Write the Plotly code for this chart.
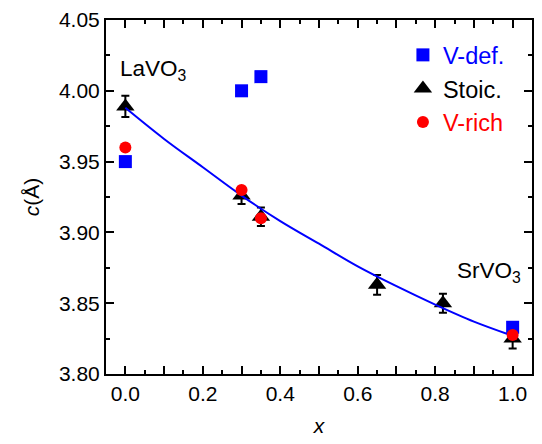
import plotly.graph_objects as go

# --- data ---
x_def = [0.0, 0.30, 0.35, 1.0]
c_def = [3.950, 4.000, 4.010, 3.833]

x_stoic = [0.0, 0.30, 0.35, 0.65, 0.82, 1.0]
c_stoic = [3.989, 3.926, 3.911, 3.863, 3.850, 3.825]
err_stoic = [0.0075, 0.006, 0.0065, 0.007, 0.0067, 0.007]

x_rich = [0.0, 0.30, 0.35, 1.0]
c_rich = [3.960, 3.930, 3.910, 3.8275]

x_fit = [0.0, 0.1, 0.2, 0.3, 0.4, 0.5, 0.6, 0.7, 0.8, 0.9, 1.0]
c_fit = [3.988, 3.966, 3.946, 3.926, 3.908, 3.892, 3.876, 3.862, 3.849, 3.837, 3.827]

x_tickvals = [0.0, 0.2, 0.4, 0.6, 0.8, 1.0]
x_ticktext = ["0.0", "0.2", "0.4", "0.6", "0.8", "1.0"]
x_tick_unlabelled = [0.0, 0.1, 0.2, 0.3, 0.4, 0.5, 0.6, 0.7, 0.8, 0.9, 1.0]
y_tickvals = [3.80, 3.85, 3.90, 3.95, 4.00, 4.05]
y_ticktext = ["3.80", "3.85", "3.90", "3.95", "4.00", "4.05"]

FONT = "Arial, 'Liberation Sans', sans-serif"
BLUE = "#0000FF"
RED = "#FF0000"
XRANGE = [-0.05, 1.05]

fig = go.Figure()

fig.add_trace(go.Scatter(
    x=x_stoic, y=c_stoic, mode="markers", name="Stoic.",
    marker=dict(symbol="triangle-up", size=16, color="black"),
    error_y=dict(type="data", array=err_stoic, color="black", thickness=2, width=4),
    legendrank=2,
))
fig.add_trace(go.Scatter(
    x=x_fit, y=c_fit, mode="lines", line=dict(color=BLUE, width=2, shape="spline"),
    showlegend=False,
))
fig.add_trace(go.Scatter(
    x=x_def, y=c_def, mode="markers", name='<span style="color:#0000FF">V-def.</span>',
    marker=dict(symbol="square", size=13, color=BLUE),
    legendrank=1,
))
fig.add_trace(go.Scatter(
    x=x_rich, y=c_rich, mode="markers", name='<span style="color:#FF0000">V-rich</span>',
    marker=dict(symbol="circle", size=12, color=RED),
    legendrank=3,
))
# invisible trace so the tick-only overlay axis is drawn
fig.add_trace(go.Scatter(
    x=[XRANGE[0]], y=[3.9], xaxis="x2", yaxis="y", mode="markers",
    marker=dict(opacity=0), showlegend=False, hoverinfo="skip",
))

axis_common = dict(
    showline=True, linecolor="black", linewidth=2, mirror="ticks",
    ticks="inside", ticklen=8, tickwidth=2, tickcolor="black",
    showgrid=False, zeroline=False,
    tickfont=dict(family=FONT, size=21, color="black"),
)

fig.update_layout(
    xaxis=dict(
        range=XRANGE, tickmode="array", tickvals=x_tickvals, ticktext=x_ticktext,
        minor=dict(dtick=0.05, ticks="inside", ticklen=4, tickwidth=2, tickcolor="black"),
        title=dict(text="<i>x</i>", font=dict(family=FONT, size=21, color="black"), standoff=14),
        **axis_common,
    ),
    xaxis2=dict(
        range=XRANGE, overlaying="x", anchor="y", side="bottom",
        tickmode="array", tickvals=x_tick_unlabelled, showticklabels=False,
        ticks="inside", ticklen=8, tickwidth=2, tickcolor="black", mirror="ticks",
        showline=False, showgrid=False, zeroline=False,
    ),
    yaxis=dict(
        range=[3.80, 4.05], tickmode="array", tickvals=y_tickvals, ticktext=y_ticktext,
        minor=dict(dtick=0.025, ticks="inside", ticklen=4, tickwidth=2, tickcolor="black"),
        title=dict(text="<i>c</i>(Å)", font=dict(family=FONT, size=21, color="black"), standoff=14),
        **axis_common,
    ),
)

fig.add_annotation(x=-0.02, y=4.015, xref="x", yref="y", text="LaVO<sub>3</sub>",
                   showarrow=False, xanchor="left", yanchor="middle",
                   font=dict(family=FONT, size=22.5, color="black"))
fig.add_annotation(x=0.85, y=3.872, xref="x", yref="y", text="SrVO<sub>3</sub>",
                   showarrow=False, xanchor="left", yanchor="middle",
                   font=dict(family=FONT, size=22.5, color="black"))

fig.update_layout(
    width=542, height=444,
    margin=dict(l=106, r=8, t=19, b=70),
    paper_bgcolor="white", plot_bgcolor="white",
    showlegend=True,
    legend=dict(x=0.697, y=0.963, xanchor="left", yanchor="top",
                bgcolor="rgba(0,0,0,0)", font=dict(family=FONT, size=23.5, color="black"),
                traceorder="normal", itemsizing="trace"),
    font=dict(family=FONT),
)

fig.write_html("out.html")
